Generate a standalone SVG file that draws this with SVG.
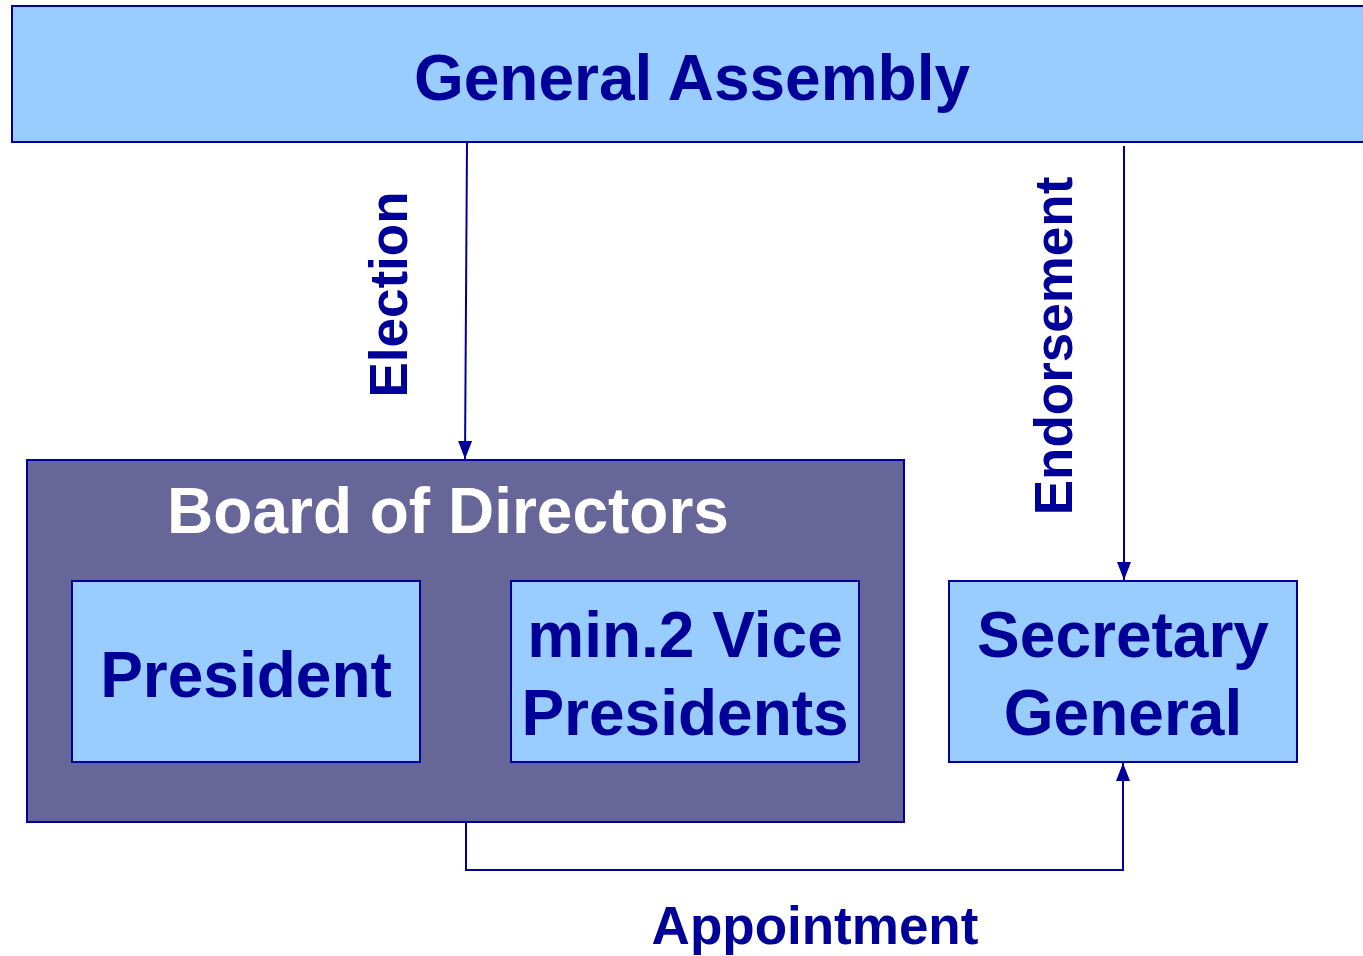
<svg xmlns="http://www.w3.org/2000/svg" width="1363" height="956" viewBox="0 0 1363 956">
<style>
.box{fill:#99CCFF;stroke:#000099;stroke-width:2}
.board{fill:#666699;stroke:#000099;stroke-width:2}
.t{font-family:"Liberation Sans",Arial,sans-serif;font-weight:bold;fill:#000099;text-anchor:middle}
.big{font-size:64px}
.lbl{font-size:53px}
.conn{fill:none;stroke:#000099;stroke-width:2}
</style>
<defs>
<marker id="arrow" viewBox="0 0 18 14" refX="18" refY="7" markerWidth="18" markerHeight="14" markerUnits="userSpaceOnUse" orient="auto">
<path d="M0,0 L18,7 L0,14 z" fill="#000099"/>
</marker>
</defs>
<g id="general-assembly">
<rect class="box" x="12" y="6" width="1360" height="136"/>
<text class="t big" x="692" y="100">General Assembly</text>
</g>
<g id="board-of-directors">
<rect class="board" x="27" y="460" width="877" height="362"/>
<text class="t big" x="448" y="533" style="fill:#ffffff">Board of Directors</text>
</g>
<g id="president">
<rect class="box" x="72" y="581" width="348" height="181"/>
<text class="t big" x="246" y="697">President</text>
</g>
<g id="vice-presidents">
<rect class="box" x="511" y="581" width="348" height="181"/>
<text class="t big" x="685" y="657">min.2 Vice</text>
<text class="t big" x="685" y="735">Presidents</text>
</g>
<g id="secretary-general">
<rect class="box" x="949" y="581" width="348" height="181"/>
<text class="t big" x="1123" y="657">Secretary</text>
<text class="t big" x="1123" y="735">General</text>
</g>
<g id="connectors">
<path class="conn" d="M467,143 L465,459" marker-end="url(#arrow)"/>
<path class="conn" d="M1124,146 L1124,580" marker-end="url(#arrow)"/>
<path class="conn" d="M466,822 L466,870 L1123,870 L1123,763" marker-end="url(#arrow)"/>
<text class="t lbl" transform="translate(407,294.5) rotate(-90)">Election</text>
<text class="t lbl" transform="translate(1072,346) rotate(-90)">Endorsement</text>
<text class="t lbl" x="815" y="944">Appointment</text>
</g>
</svg>
